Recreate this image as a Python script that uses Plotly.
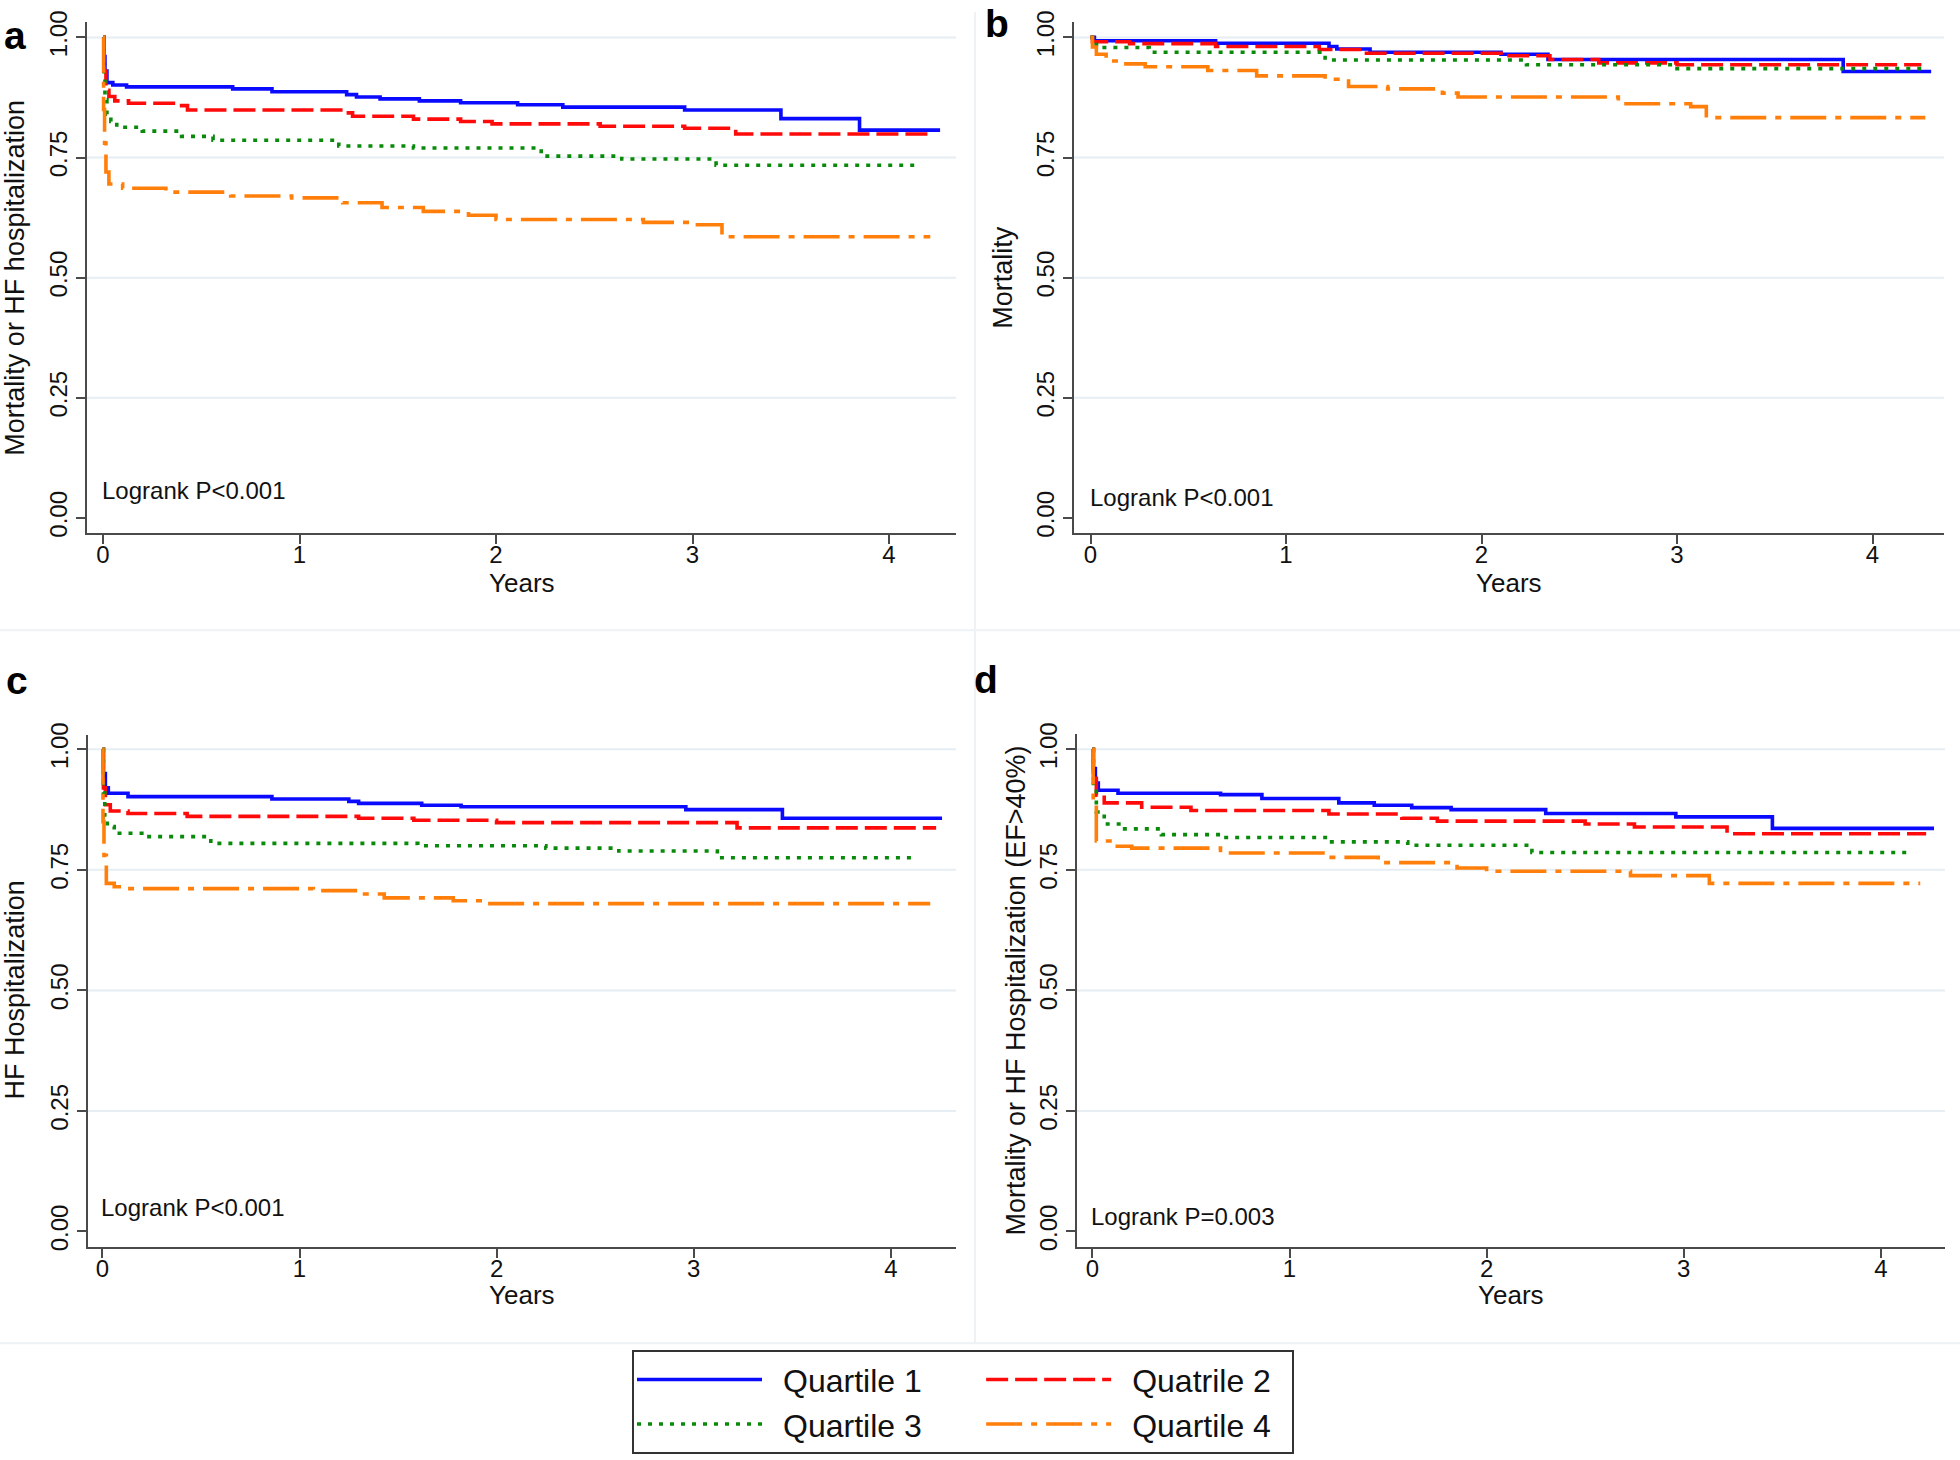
import plotly.graph_objects as go

W, H = 1960, 1460

# ---------------- data ----------------
quartile_names = ["Quartile 1", "Quatrile 2", "Quartile 3", "Quartile 4"]
y_tick_vals = [0, 0.25, 0.5, 0.75, 1.0]
y_tick_text = ["0.00", "0.25", "0.50", "0.75", "1.00"]
x_tick_vals = [0, 1, 2, 3, 4]
x_tick_text = ["0", "1", "2", "3", "4"]

panel_letters = ["a", "b", "c", "d"]
panel_ytitles = ["Mortality or HF hospitalization", "Mortality",
                 "HF Hospitalization", "Mortality or HF Hospitalization (EF>40%)"]
panel_pvalues = ["Logrank P<0.001", "Logrank P<0.001", "Logrank P<0.001", "Logrank P=0.003"]

# Panel a: Mortality or HF hospitalization
a_q1_t = [0, 0.004, 0.01, 0.02, 0.05, 0.12, 0.66, 0.86, 1.24, 1.29, 1.41, 1.61, 1.82, 2.11, 2.34, 2.96, 3.45, 3.85, 4.26]
a_q1_s = [1.0, 0.96, 0.93, 0.906, 0.901, 0.897, 0.893, 0.887, 0.881, 0.876, 0.872, 0.868, 0.864, 0.860, 0.855, 0.849, 0.831, 0.807, 0.807]
a_q2_t = [0, 0.005, 0.015, 0.03, 0.06, 0.13, 0.40, 0.43, 1.21, 1.27, 1.58, 1.82, 1.98, 2.53, 2.96, 3.22, 4.23]
a_q2_s = [1.0, 0.93, 0.89, 0.877, 0.868, 0.863, 0.858, 0.849, 0.843, 0.836, 0.830, 0.825, 0.820, 0.815, 0.811, 0.799, 0.799]
a_q3_t = [0, 0.005, 0.01, 0.02, 0.04, 0.07, 0.1, 0.2, 0.4, 0.56, 1.2, 1.58, 2.23, 2.64, 3.12, 4.13]
a_q3_s = [1.0, 0.92, 0.87, 0.84, 0.825, 0.818, 0.813, 0.805, 0.794, 0.786, 0.774, 0.770, 0.753, 0.747, 0.734, 0.734]
a_q4_t = [0, 0.003, 0.008, 0.015, 0.03, 0.1, 0.32, 0.65, 0.96, 1.22, 1.42, 1.63, 1.86, 2.0, 2.75, 3.0, 3.15, 4.21]
a_q4_s = [1.0, 0.85, 0.78, 0.72, 0.695, 0.686, 0.678, 0.670, 0.666, 0.656, 0.646, 0.638, 0.630, 0.621, 0.615, 0.610, 0.585, 0.585]

# Panel b: Mortality
b_q1_t = [0, 0.02, 0.64, 1.22, 1.26, 1.43, 2.1, 2.34, 3.85, 4.3]
b_q1_s = [1.0, 0.993, 0.988, 0.981, 0.976, 0.969, 0.965, 0.954, 0.929, 0.929]
b_q2_t = [0, 0.01, 0.2, 0.64, 1.17, 1.4, 2.1, 2.35, 2.6, 3.0, 4.25]
b_q2_s = [1.0, 0.991, 0.987, 0.981, 0.975, 0.967, 0.962, 0.954, 0.947, 0.943, 0.943]
b_q3_t = [0, 0.01, 0.05, 0.3, 1.2, 2.23, 3.0, 4.27]
b_q3_s = [1.0, 0.985, 0.979, 0.969, 0.953, 0.943, 0.935, 0.935]
b_q4_t = [0, 0.01, 0.03, 0.08, 0.15, 0.28, 0.6, 0.85, 1.2, 1.32, 1.52, 1.8, 1.88, 2.7, 3.07, 3.15, 4.27]
b_q4_s = [1.0, 0.98, 0.965, 0.951, 0.945, 0.939, 0.931, 0.920, 0.913, 0.898, 0.893, 0.884, 0.876, 0.862, 0.856, 0.833, 0.833]

# Panel c: HF Hospitalization
c_q1_t = [0, 0.005, 0.015, 0.03, 0.13, 0.86, 1.25, 1.3, 1.62, 1.82, 2.96, 3.45, 4.26]
c_q1_s = [1.0, 0.95, 0.92, 0.909, 0.902, 0.897, 0.892, 0.888, 0.884, 0.881, 0.875, 0.857, 0.857]
c_q2_t = [0, 0.005, 0.015, 0.04, 0.13, 0.43, 1.3, 1.58, 2.0, 3.22, 4.23]
c_q2_s = [1.0, 0.92, 0.885, 0.872, 0.867, 0.861, 0.857, 0.853, 0.848, 0.837, 0.837]
c_q3_t = [0, 0.005, 0.012, 0.025, 0.06, 0.2, 0.55, 1.6, 2.25, 2.62, 3.12, 4.13]
c_q3_s = [1.0, 0.91, 0.86, 0.84, 0.826, 0.819, 0.805, 0.800, 0.795, 0.789, 0.775, 0.775]
c_q4_t = [0, 0.003, 0.008, 0.02, 0.06, 0.13, 1.07, 1.3, 1.43, 1.78, 1.95, 4.2]
c_q4_s = [1.0, 0.85, 0.78, 0.722, 0.715, 0.711, 0.707, 0.700, 0.692, 0.686, 0.680, 0.680]

# Panel d: Mortality or HF Hospitalization (EF>40%)
d_q1_t = [0, 0.005, 0.015, 0.03, 0.13, 0.65, 0.86, 1.25, 1.43, 1.62, 1.82, 2.3, 2.96, 3.45, 4.27]
d_q1_s = [1.0, 0.96, 0.93, 0.915, 0.909, 0.906, 0.898, 0.889, 0.884, 0.879, 0.875, 0.867, 0.860, 0.836, 0.836]
d_q2_t = [0, 0.005, 0.02, 0.06, 0.25, 0.5, 1.2, 1.57, 1.75, 2.5, 2.75, 3.22, 4.23]
d_q2_s = [1.0, 0.94, 0.905, 0.889, 0.880, 0.873, 0.866, 0.857, 0.851, 0.845, 0.839, 0.825, 0.825]
d_q3_t = [0, 0.005, 0.02, 0.06, 0.15, 0.35, 0.65, 1.2, 1.6, 2.23, 4.15]
d_q3_s = [1.0, 0.92, 0.87, 0.845, 0.835, 0.823, 0.817, 0.808, 0.801, 0.786, 0.786]
d_q4_t = [0, 0.004, 0.02, 0.1, 0.2, 0.65, 1.2, 1.45, 1.85, 2.0, 2.73, 3.13, 4.2]
d_q4_s = [1.0, 0.88, 0.81, 0.799, 0.795, 0.785, 0.776, 0.765, 0.754, 0.747, 0.738, 0.722, 0.722]

panel_series = [
    [(a_q1_t, a_q1_s), (a_q2_t, a_q2_s), (a_q3_t, a_q3_s), (a_q4_t, a_q4_s)],
    [(b_q1_t, b_q1_s), (b_q2_t, b_q2_s), (b_q3_t, b_q3_s), (b_q4_t, b_q4_s)],
    [(c_q1_t, c_q1_s), (c_q2_t, c_q2_s), (c_q3_t, c_q3_s), (c_q4_t, c_q4_s)],
    [(d_q1_t, d_q1_s), (d_q2_t, d_q2_s), (d_q3_t, d_q3_s), (d_q4_t, d_q4_s)],
]

# ---------------- styles ----------------
colors = ["#0a0aff", "#ff0a0a", "#0a8a0a", "#ff7f0a"]
dashes = ["solid", "22px,7px", "4px,7px", "36px,9px,6px,9px"]
groups = ["col1", "col2", "col1", "col2"]
# whitespace used only to space the two legend columns like the reference
legend_pad = ["\u2003\u2002\u2009", "\u2002", "\u2003\u2002\u2009", "\u2002"]
LW = 3.6

FONT = "Liberation Sans, Arial, Helvetica, sans-serif"
AXIS_COL = "#4a4a4a"
GRID_COL = "#e6eef3"
TXT = "#111111"


def px(X):
    return X / W


def py(Y):
    return 1 - Y / H


# reference pixel geometry of each panel: plot box (left, right, top, bottom),
# x pixel of year 0, pixels per year, y pixel of 1.00 and 0.00
geom = [
    dict(L=87, R=956, T=10, B=527, x0=103.0, ppy=196.5, y1=25.7, y0=511.5),
    dict(L=1074, R=1944, T=10, B=527, x0=1090.5, ppy=195.5, y1=25.7, y0=511.5),
    dict(L=88, R=956, T=731, B=1249, x0=102.4, ppy=197.1, y1=745.5, y0=1233.0),
    dict(L=1077, R=1945, T=730, B=1249, x0=1092.4, ppy=197.1, y1=745.5, y0=1233.0),
]
# (x, y, vertical anchor) of the panel letters
letter_pos = [(2, 0, "top"), (983, 12, "middle"), (4, 676, "middle"), (972, 675, "middle")]
ytitle_x = [15, 1003, 15, 1016]
years_y = [577, 577, 1297, 1297]
logrank_y = [0.056, 0.043, 0.049, 0.031]

fig = go.Figure()
annotations = []
shapes = []

for p in range(4):
    g = geom[p]
    sfx = "" if p == 0 else str(p + 1)
    xa, ya = "x" + sfx, "y" + sfx
    ppu = g["y0"] - g["y1"]
    xr = [(g["L"] - g["x0"]) / g["ppy"], (g["R"] - g["x0"]) / g["ppy"]]
    yr = [(g["y0"] - g["B"]) / ppu, (g["y0"] - g["T"]) / ppu]

    for q in range(4):
        t, s = panel_series[p][q]
        fig.add_trace(go.Scatter(
            x=t, y=s, mode="lines", line_shape="hv",
            line=dict(color=colors[q], width=LW, dash=dashes[q]),
            name="\u2002" + quartile_names[q] + legend_pad[q], legendgroup=groups[q],
            showlegend=(p == 0), xaxis=xa, yaxis=ya, hoverinfo="skip"))

    fig.layout["xaxis" + sfx] = dict(
        domain=[px(g["L"]), px(g["R"])], anchor=ya, range=xr,
        showgrid=False, zeroline=False, showline=True, linecolor=AXIS_COL, linewidth=2,
        ticks="outside", ticklen=9, tickwidth=2, tickcolor=AXIS_COL,
        tickvals=x_tick_vals, ticktext=x_tick_text, ticklabelstandoff=-10,
        tickfont=dict(family=FONT, size=24, color=TXT))
    fig.layout["yaxis" + sfx] = dict(
        domain=[py(g["B"]), py(g["T"])], anchor=xa, range=yr,
        showgrid=False, zeroline=False, showline=True, linecolor=AXIS_COL, linewidth=2,
        ticks="outside", ticklen=9, tickwidth=2, tickcolor=AXIS_COL,
        tickvals=y_tick_vals, ticktext=y_tick_text, tickangle=-90, ticklabelstandoff=-1,
        tickfont=dict(family=FONT, size=24, color=TXT))

    # horizontal grid lines at the tick values (none at 0.00)
    for v in y_tick_vals[1:]:
        shapes.append(dict(type="line", xref=xa + " domain", yref=ya,
                           x0=0.0, x1=1.0, y0=v, y1=v, layer="below",
                           line=dict(color=GRID_COL, width=2)))

    # panel letter
    lx, ly, lanchor = letter_pos[p]
    annotations.append(dict(text="<b>" + panel_letters[p] + "</b>", xref="paper", yref="paper",
                            x=px(lx), y=py(ly), xanchor="left", yanchor=lanchor,
                            showarrow=False, font=dict(family=FONT, size=39, color="black")))
    # y title
    annotations.append(dict(text=panel_ytitles[p], xref="paper", yref="paper",
                            x=px(ytitle_x[p]), y=py((g["y1"] + g["y0"]) / 2),
                            xanchor="center", yanchor="middle", textangle=-90,
                            showarrow=False, font=dict(family=FONT, size=27, color=TXT)))
    # x title
    annotations.append(dict(text="Years", xref="paper", yref="paper",
                            x=px((g["L"] + g["R"]) / 2), y=py(years_y[p]),
                            xanchor="center", yanchor="middle",
                            showarrow=False, font=dict(family=FONT, size=26, color=TXT)))
    # log-rank p value
    annotations.append(dict(text=panel_pvalues[p], xref=xa, yref=ya,
                            x=0, y=logrank_y[p], xanchor="left", yanchor="middle", xshift=-3,
                            showarrow=False, font=dict(family=FONT, size=24, color=TXT)))

# faint panel separators
sep = "#eef2f5"
shapes.append(dict(type="line", xref="paper", yref="paper", x0=px(975), x1=px(975),
                   y0=py(1346), y1=1, line=dict(color=sep, width=2), layer="below"))
shapes.append(dict(type="line", xref="paper", yref="paper", x0=0, x1=1,
                   y0=py(625), y1=py(625), line=dict(color=sep, width=2), layer="below"))
shapes.append(dict(type="line", xref="paper", yref="paper", x0=0, x1=1,
                   y0=py(1346), y1=py(1346), line=dict(color=sep, width=2), layer="below"))

fig.update_layout(
    width=W, height=H, margin=dict(l=0, r=0, t=0, b=0),
    paper_bgcolor="white", plot_bgcolor="white",
    annotations=annotations, shapes=shapes,
    showlegend=True,
    legend=dict(orientation="h", traceorder="grouped",
                x=px(632), y=py(1353), xanchor="left", yanchor="top",
                bgcolor="white", bordercolor="#333", borderwidth=2,
                font=dict(family=FONT, size=32, color=TXT),
                itemwidth=125, tracegroupgap=0),
)

# remove the default 8 px page margin so the figure fills the window exactly
fig.write_html("out.html", config={"displayModeBar": False},
               post_script="document.body.style.margin='0px';document.body.style.overflow='hidden';")
